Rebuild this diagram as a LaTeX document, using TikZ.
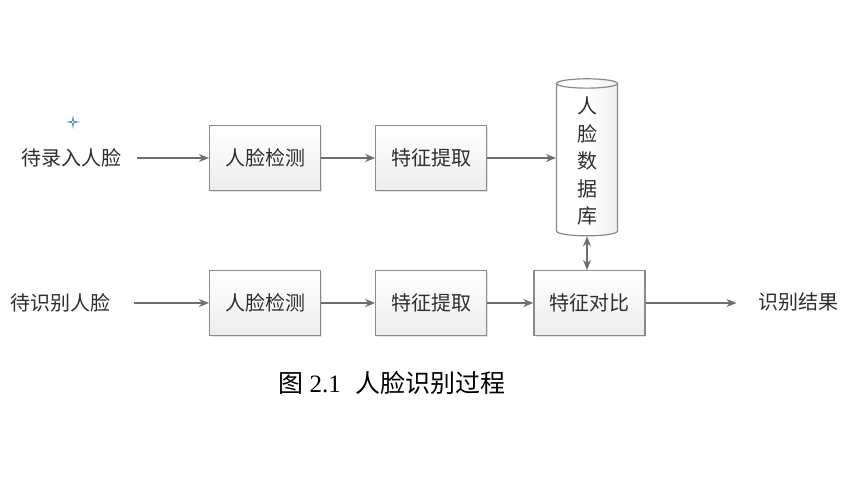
\documentclass[tikz,border=0pt]{standalone}
\usepackage{fontspec}
\setmainfont{Liberation Serif}
\newfontfamily\cjk{Noto Sans CJK SC}
\usetikzlibrary{positioning,shapes.geometric,shadows,calc,arrows.meta}

\definecolor{linegray}{HTML}{6E6E6E}
\definecolor{boxgray}{HTML}{8A8A8A}
\definecolor{textgray}{HTML}{2E2E2E}
\definecolor{markblue}{HTML}{4A86C8}

\tikzset{
  procbox/.style={rectangle, draw=boxgray, line width=1.2pt, top color=white, bottom color=gray!14,
                  minimum width=111pt, minimum height=65pt, text=textgray,
                  font=\cjk\fontsize{20}{24}\selectfont,
                  drop shadow={opacity=0.2, shadow xshift=1.5pt, shadow yshift=-1.5pt}},
  dbcyl/.style={cylinder, shape border rotate=90, aspect=0.35, draw=boxgray, line width=1.2pt,
                left color=white, right color=gray!12, middle color=white,
                minimum width=61pt, minimum height=157pt, text=textgray, align=center,
                font=\cjk\fontsize{20}{27.5}\selectfont},
  label/.style={text=textgray, font=\cjk\fontsize{20}{24}\selectfont},
  flow/.style={->, >={Stealth[length=10pt, width=8pt]}, line width=1.3pt, draw=linegray},
}

\begin{document}
\begin{tikzpicture}[x=1pt, y=-1pt]
  \useasboundingbox[fill=white] (0,0) rectangle (868,488);

  % enrolment row
  \node[label] (in1) at (71,158) {待录入人脸};
  \node[procbox] (detect1) at (265,158) {人脸检测};
  \node[procbox, right=54pt of detect1] (extract1) {特征提取};
  \node[dbcyl] (facedb) at (587,161) {人\\脸\\数\\据\\库};

  % recognition row
  \node[label] (in2) at (60,303) {待识别人脸};
  \node[procbox] (detect2) at (265,303) {人脸检测};
  \node[procbox, right=54pt of detect2] (extract2) {特征提取};
  \node[procbox, right=46pt of extract2] (compare) {特征对比};
  \node[label] (result) at (798,302) {识别结果};

  % flows
  \draw[flow, shorten <=12pt] (in1) -- (detect1);
  \draw[flow] (detect1) -- (extract1);
  \draw[flow] (extract1) -- (extract1 -| facedb.west);
  \draw[flow, shorten <=20pt] (in2) -- (detect2);
  \draw[flow] (detect2) -- (extract2);
  \draw[flow] (extract2) -- (compare);
  \draw[flow, shorten >=18pt] (compare) -- (compare -| result.west);
  \draw[flow, <->] (facedb.south) -- (facedb.south |- compare.north);

  % caption
  \node (caption) at (392,383) {\fontsize{25}{29}\selectfont{\cjk 图} 2.1\hspace{0.6em}{\cjk 人脸识别过程}};

  % small blue cursor mark
  \coordinate (mark) at (73,122);
  \fill[markblue] ($(mark)+(-7,0)$) -- ($(mark)+(0,-1.2)$) -- ($(mark)+(7,0)$) -- ($(mark)+(0,1.2)$) -- cycle;
  \fill[markblue] ($(mark)+(0,-7)$) -- ($(mark)+(-1.2,0)$) -- ($(mark)+(0,7)$) -- ($(mark)+(1.2,0)$) -- cycle;
  \fill[white] (mark) circle (1.2pt);
\end{tikzpicture}
\end{document}
